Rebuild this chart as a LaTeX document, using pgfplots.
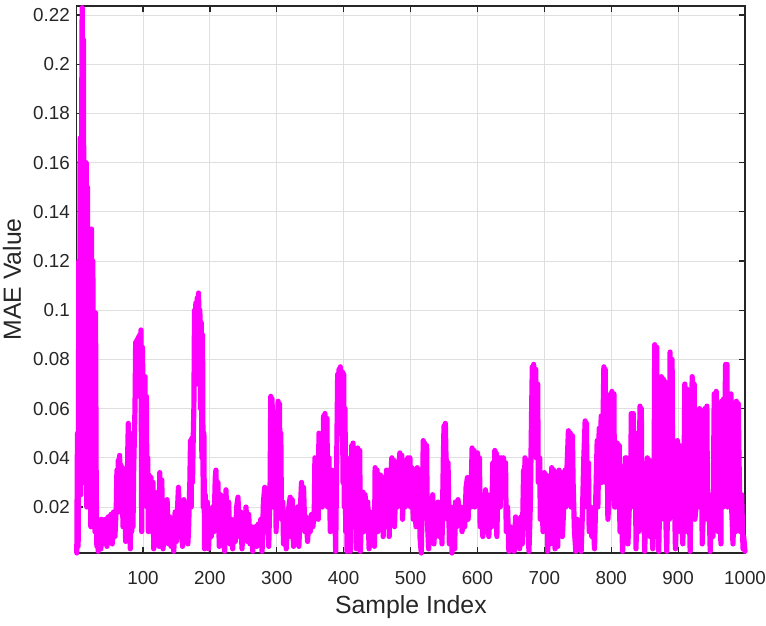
\documentclass[border=0pt]{standalone}
\usepackage{fontspec}
\setmainfont{Liberation Sans}
\usepackage{pgfplots}
\pgfplotsset{compat=1.18}
\definecolor{axgray}{HTML}{262626}
\definecolor{gridgray}{HTML}{DFDFDF}
\definecolor{mag}{RGB}{255,0,255}
\begin{document}
\begin{tikzpicture}
\begin{axis}[
  name=ax,
  scale only axis,
  width=334.1pt, height=273.5pt,
  xmin=1, xmax=1000,
  ymin=0.0013, ymax=0.2237,
  xtick={100,200,...,1000},
  ytick={0.02,0.04,...,0.221},
  scaled y ticks=false,
  /pgf/number format/assume math mode=true,
  /pgf/number format/1000 sep={},
  yticklabel style={/pgf/number format/fixed, /pgf/number format/precision=2, font=\fontsize{9.4}{10}\selectfont, text=axgray},
  xticklabel style={font=\fontsize{9.4}{10}\selectfont, text=axgray, yshift=-5.5pt},
  grid=major,
  major grid style={gridgray, line width=0.5pt},
  axis line style={axgray, line width=0.6pt},
  tick style={axgray, line width=0.6pt},
  major tick length=3pt,
  tick align=inside,
  tick pos=both,
  clip=false,
  xlabel={Sample Index},
  ylabel={MAE Value},
  xlabel style={font=\fontsize{12.4}{14}\selectfont, text=axgray, at={(axis description cs:0.5,-0.099)}, anchor=center},
  ylabel style={font=\fontsize{12.4}{14}\selectfont, text=axgray, at={(axis description cs:-0.097,0.5)}, anchor=center},
]
\addplot[color=mag, line width=2.6pt, line join=round, line cap=round] coordinates {
(1,0.0013) (2,0.05) (3,0.004) (4,0.12) (5,0.03) (6,0.17) (7,0.025) (8,0.16) (9,0.223) (10,0.05)
(11,0.21) (12,0.03) (13,0.16) (14,0.06) (15,0.16) (16,0.02) (17,0.15) (18,0.04) (19,0.133) (20,0.03)
(21,0.13) (22,0.012) (23,0.133) (24,0.03) (25,0.12) (26,0.02) (27,0.098) (28,0.01) (29,0.099) (30,0.03)
(31,0.004) (32,0.012) (33,0.002) (34,0.014) (35,0.006) (36,0.013) (37,0.003) (38,0.015) (39,0.005) (40,0.014)
(42,0.006) (44,0.015) (46,0.004) (48,0.016) (50,0.007) (52,0.017) (54,0.005) (56,0.018) (58,0.008) (60,0.02)
(61,0.035) (62,0.02) (63,0.039) (64,0.025) (65,0.041) (66,0.018) (67,0.037) (68,0.03) (69,0.036) (70,0.012)
(71,0.035) (72,0.02) (73,0.034) (74,0.006) (75,0.03) (76,0.01) (77,0.04) (78,0.054) (79,0.02) (80,0.05)
(81,0.003) (82,0.035) (83,0.01) (84,0.028) (85,0.012) (86,0.035) (88,0.06) (89,0.087) (90,0.075) (91,0.088)
(92,0.07) (93,0.089) (94,0.065) (95,0.09) (96,0.08) (97,0.092) (98,0.01) (99,0.085) (100,0.07) (101,0.073)
(102,0.045) (103,0.073) (104,0.03) (105,0.065) (106,0.02) (107,0.04) (108,0.01) (109,0.033) (110,0.015) (112,0.032)
(113,0.01) (115,0.03) (116,0.003) (118,0.02) (120,0.008) (122,0.026) (124,0.004) (125,0.034) (127,0.015) (128,0.031)
(130,0.003) (132,0.02) (134,0.008) (136,0.023) (138,0.005) (140,0.016) (142,0.004) (144,0.012) (146,0.002) (148,0.018)
(150,0.006) (152,0.022) (153,0.028) (155,0.008) (157,0.02) (159,0.004) (161,0.023) (163,0.015) (165,0.02) (167,0.005)
(168,0.01) (170,0.03) (171,0.047) (172,0.02) (173,0.048) (174,0.03) (175,0.047) (176,0.06) (177,0.1) (178,0.08)
(179,0.103) (180,0.09) (181,0.105) (182,0.07) (183,0.107) (184,0.09) (185,0.1) (186,0.06) (187,0.095) (188,0.04)
(189,0.09) (190,0.02) (191,0.05) (192,0.003) (193,0.025) (195,0.01) (196,0.022) (198,0.003) (200,0.018) (202,0.008)
(204,0.02) (206,0.01) (208,0.032) (209,0.035) (211,0.012) (212,0.03) (214,0.004) (216,0.025) (218,0.008) (220,0.02)
(222,0.002) (224,0.027) (226,0.01) (228,0.022) (230,0.005) (232,0.015) (234,0.003) (236,0.012) (238,0.006) (240,0.02)
(242,0.024) (244,0.008) (246,0.018) (248,0.003) (250,0.015) (252,0.008) (254,0.02) (256,0.006) (258,0.017) (260,0.005)
(262,0.012) (264,0.002) (266,0.01) (268,0.012) (270,0.004) (272,0.013) (274,0.008) (276,0.015) (278,0.002) (280,0.022)
(282,0.028) (284,0.01) (286,0.018) (288,0.004) (290,0.03) (291,0.065) (292,0.04) (293,0.064) (294,0.02) (295,0.05)
(296,0.053) (297,0.03) (298,0.052) (299,0.01) (300,0.045) (301,0.055) (302,0.063) (303,0.04) (304,0.062) (305,0.025)
(306,0.05) (307,0.015) (309,0.022) (310,0.005) (312,0.018) (314,0.003) (316,0.012) (318,0.02) (320,0.024) (321,0.008)
(323,0.023) (325,0.004) (327,0.015) (329,0.01) (331,0.02) (333,0.004) (335,0.018) (337,0.03) (338,0.012) (340,0.028)
(342,0.01) (344,0.016) (346,0.006) (348,0.015) (350,0.01) (352,0.017) (354,0.012) (356,0.018) (357,0.04) (358,0.02)
(360,0.039) (362,0.015) (363,0.05) (364,0.03) (366,0.049) (368,0.02) (370,0.057) (371,0.04) (372,0.058) (373,0.03)
(375,0.056) (376,0.02) (378,0.04) (380,0.01) (382,0.035) (384,0.012) (386,0.03) (388,0.002) (390,0.05) (391,0.074)
(392,0.06) (393,0.076) (394,0.05) (395,0.077) (396,0.065) (398,0.075) (399,0.03) (400,0.074) (401,0.02) (402,0.06)
(403,0.01) (404,0.04) (405,0.002) (406,0.03) (407,0.015) (409,0.028) (410,0.002) (412,0.045) (413,0.02) (414,0.046)
(416,0.012) (418,0.04) (419,0.003) (421,0.044) (422,0.015) (424,0.043) (425,0.002) (427,0.02) (429,0.026) (430,0.01)
(432,0.025) (434,0.012) (436,0.022) (438,0.003) (440,0.018) (442,0.005) (444,0.015) (446,0.004) (447,0.036) (448,0.02)
(450,0.035) (451,0.01) (453,0.022) (455,0.033) (456,0.015) (458,0.032) (459,0.008) (460,0.028) (462,0.012) (464,0.035)
(465,0.02) (467,0.034) (468,0.008) (470,0.03) (472,0.04) (473,0.025) (475,0.039) (476,0.012) (478,0.03) (480,0.02)
(482,0.035) (484,0.042) (485,0.025) (487,0.041) (488,0.015) (490,0.035) (492,0.02) (494,0.038) (496,0.04) (497,0.028)
(499,0.04) (500,0.02) (502,0.036) (504,0.015) (506,0.03) (508,0.012) (510,0.036) (511,0.02) (513,0.035) (514,0.008)
(516,0.0013) (518,0.03) (519,0.047) (520,0.02) (521,0.046) (522,0.03) (524,0.045) (525,0.015) (527,0.003) (529,0.02)
(531,0.008) (533,0.025) (535,0.005) (537,0.02) (539,0.01) (541,0.022) (543,0.008) (545,0.02) (547,0.005) (549,0.04)
(550,0.053) (551,0.035) (552,0.054) (553,0.04) (554,0.038) (555,0.015) (556,0.038) (558,0.005) (560,0.02) (562,0.0013)
(564,0.012) (566,0.003) (567,0.022) (569,0.012) (571,0.023) (573,0.015) (575,0.02) (577,0.01) (579,0.016) (581,0.012)
(583,0.028) (585,0.032) (586,0.015) (588,0.03) (590,0.02) (592,0.044) (593,0.03) (595,0.043) (596,0.02) (598,0.04)
(600,0.042) (601,0.025) (603,0.04) (604,0.012) (606,0.02) (608,0.008) (610,0.015) (612,0.027) (613,0.01) (615,0.025)
(617,0.008) (619,0.02) (621,0.012) (623,0.038) (624,0.02) (626,0.043) (627,0.03) (628,0.042) (629,0.008) (631,0.035)
(633,0.04) (634,0.02) (636,0.04) (637,0.025) (639,0.04) (640,0.03) (642,0.038) (643,0.01) (645,0.02) (647,0.002)
(649,0.012) (651,0.004) (653,0.01) (655,0.002) (657,0.016) (659,0.005) (661,0.015) (663,0.003) (665,0.016) (667,0.005)
(669,0.035) (670,0.02) (671,0.04) (672,0.03) (673,0.039) (675,0.015) (677,0.002) (679,0.02) (681,0.06) (682,0.077)
(683,0.06) (684,0.078) (685,0.05) (687,0.076) (688,0.04) (690,0.07) (691,0.03) (693,0.04) (694,0.015) (696,0.03)
(698,0.01) (700,0.034) (701,0.02) (703,0.033) (705,0.002) (707,0.015) (709,0.005) (711,0.036) (712,0.02) (714,0.035)
(716,0.003) (718,0.01) (720,0.004) (722,0.035) (723,0.02) (725,0.034) (727,0.008) (729,0.02) (731,0.035) (732,0.02)
(734,0.037) (736,0.051) (737,0.03) (739,0.05) (740,0.02) (742,0.049) (743,0.03) (745,0.01) (747,0.002) (749,0.015)
(751,0.003) (753,0.012) (755,0.002) (757,0.018) (759,0.04) (761,0.055) (762,0.04) (763,0.054) (764,0.02) (766,0.038)
(767,0.01) (769,0.02) (771,0.008) (773,0.015) (775,0.003) (777,0.025) (779,0.047) (780,0.02) (782,0.052) (783,0.035)
(785,0.057) (786,0.03) (788,0.06) (789,0.077) (790,0.05) (791,0.076) (792,0.03) (794,0.04) (795,0.015) (797,0.025)
(799,0.066) (800,0.03) (801,0.067) (802,0.05) (804,0.066) (805,0.02) (807,0.02) (809,0.046) (810,0.025) (812,0.045)
(813,0.01) (815,0.02) (817,0.002) (819,0.02) (821,0.04) (822,0.015) (823,0.04) (825,0.005) (827,0.02) (829,0.03)
(830,0.058) (831,0.03) (833,0.058) (834,0.02) (836,0.05) (837,0.003) (839,0.025) (841,0.01) (843,0.061) (844,0.03)
(845,0.06) (846,0.015) (848,0.03) (850,0.002) (852,0.02) (854,0.04) (855,0.02) (857,0.039) (858,0.008) (860,0.025)
(862,0.003) (864,0.03) (865,0.086) (866,0.04) (868,0.085) (869,0.02) (871,0.002) (873,0.03) (875,0.073) (876,0.03)
(878,0.072) (879,0.015) (880,0.071) (881,0.02) (883,0.002) (885,0.03) (887,0.015) (888,0.083) (889,0.03) (891,0.08)
(892,0.02) (894,0.03) (896,0.003) (898,0.025) (899,0.047) (900,0.02) (902,0.045) (903,0.01) (905,0.025) (907,0.005)
(909,0.04) (910,0.07) (911,0.025) (913,0.068) (914,0.01) (916,0.03) (918,0.002) (920,0.05) (921,0.073) (922,0.03)
(924,0.07) (925,0.015) (927,0.02) (929,0.058) (930,0.02) (932,0.06) (933,0.03) (935,0.04) (936,0.005) (938,0.02)
(940,0.06) (941,0.03) (943,0.061) (944,0.015) (946,0.025) (948,0.002) (950,0.02) (952,0.008) (954,0.066) (955,0.03)
(957,0.067) (958,0.02) (960,0.01) (962,0.025) (964,0.005) (965,0.063) (967,0.02) (968,0.064) (970,0.06) (971,0.078)
(972,0.04) (973,0.078) (974,0.02) (976,0.066) (977,0.03) (979,0.066) (980,0.02) (982,0.005) (984,0.025) (986,0.01)
(987,0.063) (988,0.03) (990,0.062) (991,0.04) (993,0.01) (995,0.025) (997,0.003) (998,0.008) (1000,0.002)
};
\end{axis}
\pgfresetboundingbox
\path[use as bounding box] ([xshift=-38.4pt,yshift=-36pt]ax.south west) rectangle ([xshift=10.5pt,yshift=3pt]ax.north east);
\end{tikzpicture}
\end{document}
